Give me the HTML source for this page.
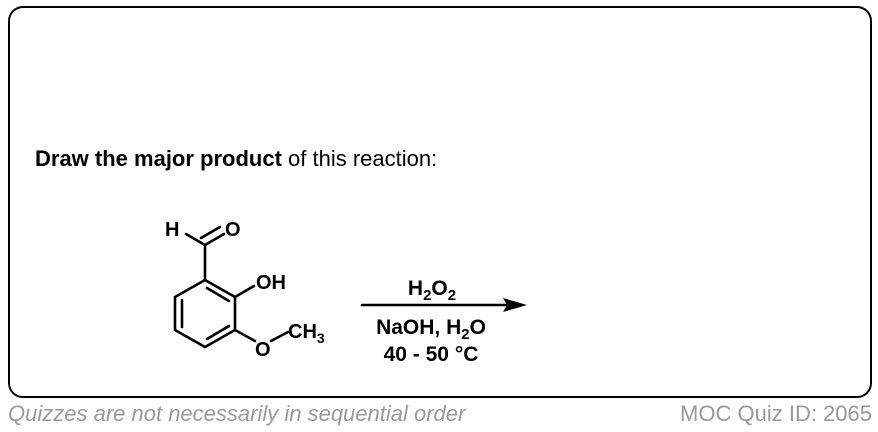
<!DOCTYPE html>
<html><head><meta charset="utf-8"><style>
body{margin:0;width:878px;height:432px;background:#fff;overflow:hidden;font-family:"Liberation Sans",Arial,sans-serif}
.box{position:absolute;left:8px;top:6px;width:860px;height:388px;border:2px solid #000;border-radius:15px}
.t{position:absolute;white-space:nowrap;line-height:1}
</style></head><body>
<div class="box"></div>
<div class="t" style="left:35px;top:148px;font-size:22px"><b>Draw the major product</b> of this reaction:</div>
<svg width="878" height="432" style="position:absolute;left:0;top:0" font-family="Liberation Sans, Arial, sans-serif" font-weight="bold">
<g stroke="#000" stroke-width="2.6" fill="none" stroke-linecap="round">
<polyline points="205,280 235,297 235,330 205,347 175,330 175,297 205,280"/>
<line x1="182" y1="300" x2="182" y2="327"/>
<line x1="207" y1="288" x2="229" y2="301"/>
<line x1="207" y1="339" x2="229" y2="326"/>
<line x1="205" y1="280" x2="205" y2="245"/>
<line x1="205" y1="245" x2="186" y2="234"/>
<line x1="205" y1="245" x2="224" y2="234"/>
<line x1="201" y1="238" x2="220" y2="227"/>
<line x1="235" y1="297" x2="254" y2="286"/>
<line x1="235" y1="330" x2="255" y2="341"/>
<line x1="271" y1="341" x2="288" y2="332"/>
<line x1="362" y1="305" x2="508" y2="305"/>
</g>
<polygon points="527,305 503,298 507,305 503,312" fill="#000"/>
<g font-size="20" fill="#000">
<text x="165" y="236">H</text>
<text x="225" y="236">O</text>
<text x="256" y="289">OH</text>
<text x="255" y="356">O</text>
<text x="288" y="338">CH<tspan font-size="14" dy="5">3</tspan></text>
</g>
<g font-size="21" fill="#000">
<text x="432" y="295" text-anchor="middle">H<tspan font-size="15" dy="5">2</tspan><tspan dy="-5">O</tspan><tspan font-size="15" dy="5">2</tspan></text>
<text x="431" y="334" text-anchor="middle">NaOH, H<tspan font-size="15" dy="5">2</tspan><tspan dy="-5">O</tspan></text>
<text x="431" y="361" text-anchor="middle">40 - 50 °C</text>
</g>
</svg>
<div class="t" style="left:8px;top:403px;font-size:22px;color:#999;font-style:italic">Quizzes are not necessarily in sequential order</div>
<div class="t" style="right:6px;top:403px;font-size:22px;color:#999">MOC Quiz ID: 2065</div>
</body></html>
